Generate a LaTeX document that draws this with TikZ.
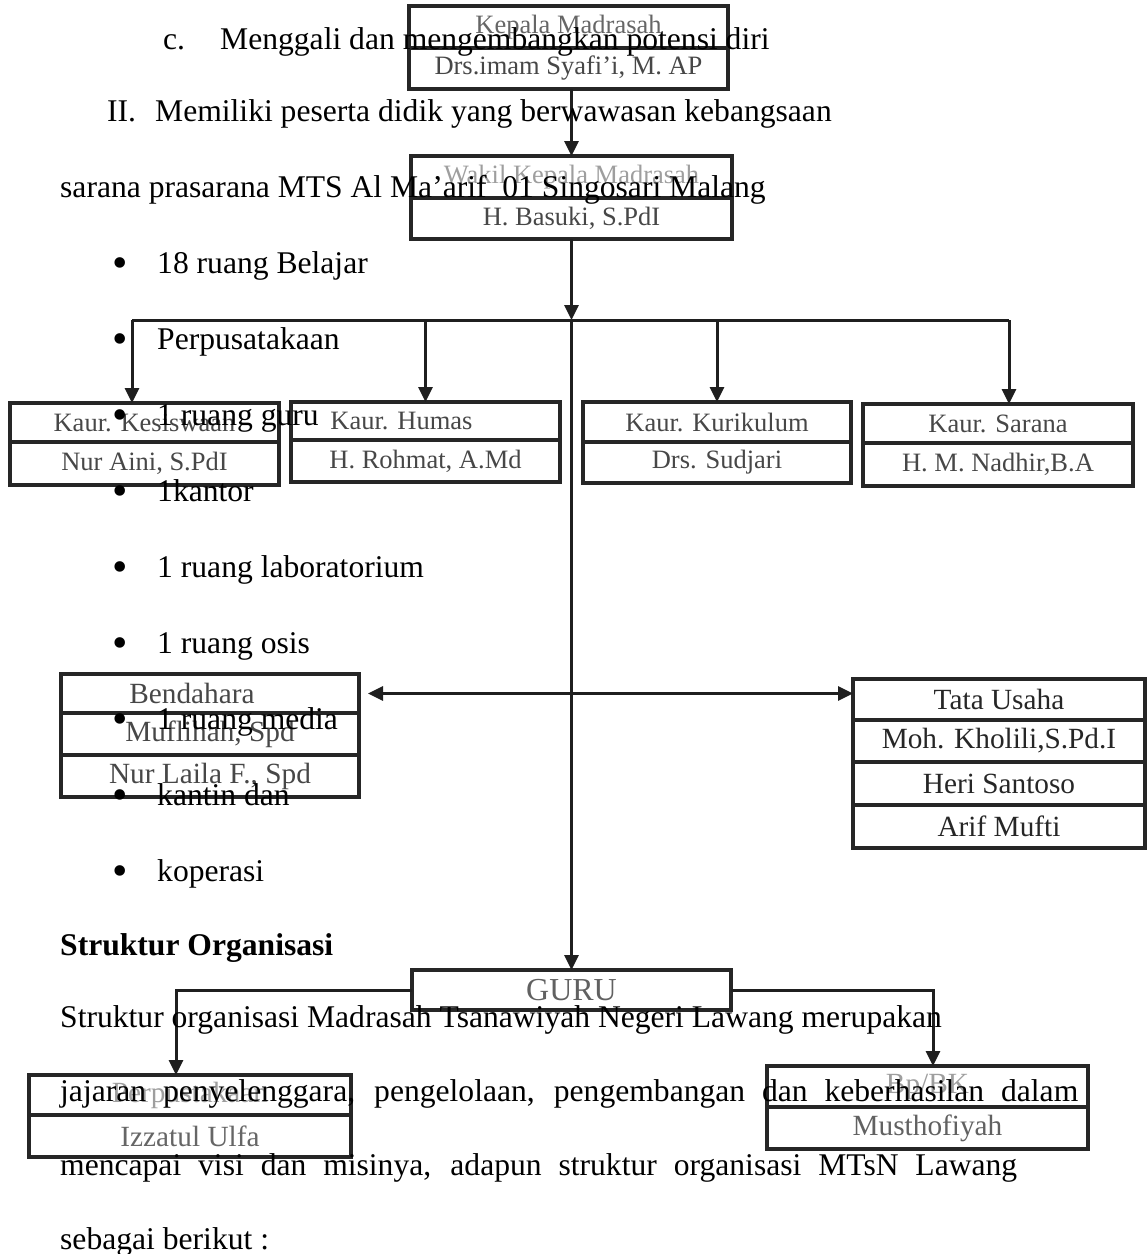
\documentclass[tikz,border=0pt]{standalone}
\usepackage{fontspec}
\setmainfont{Liberation Serif}
\usetikzlibrary{arrows.meta,positioning}

\tikzset{
  cell/.style={draw=black!85, line width=3.5pt, inner sep=0pt, outer sep=0pt,
    text=black!72, font=\fontsize{26.5}{30}\selectfont},
  wide/.style={font=\fontsize{29.3}{33}\selectfont},
  pale/.style={text=black!38},
  link/.style={draw=black!88, line width=3pt},
  arr/.style={link, -{Triangle[length=15pt,width=14pt]}},
  body/.style={inner sep=0pt, anchor=base west, font=\fontsize{31.6}{38}\selectfont},
  dotmark/.style={inner sep=0pt, anchor=base west, yshift=-4pt, font=\fontsize{44}{48}\selectfont},
}

\begin{document}
\begin{tikzpicture}[x=1pt, y=-1pt, line join=miter]
    \useasboundingbox (0,0) rectangle (1147,1254);

    % Kepala and Wakil
    \node[cell, anchor=north west, minimum width=319pt, minimum height=42pt, text=black!60] (kepT) at (409,6) {Kepala Madrasah};
    \node[cell, minimum width=319pt, minimum height=41pt, below=0pt of kepT] (kepB) {Drs.imam Syafi’i, M. AP};
    \node[cell, anchor=north west, minimum width=321pt, minimum height=42pt, pale] (wakT) at (411,156) {Wakil Kepala Madrasah};
    \node[cell, minimum width=321pt, minimum height=41pt, below=0pt of wakT] (wakB) {H. Basuki, S.PdI};

    % Kaur boxes
    \node[cell, anchor=north west, minimum width=269pt, minimum height=39pt] (kesT) at (10,403) {Kaur. Kesiswaan};
    \node[cell, minimum width=269pt, minimum height=43pt, below=0pt of kesT] (kesB) {Nur Aini, S.PdI};
    \node[cell, anchor=north west, minimum width=269pt, minimum height=38pt] (humT) at (291,402) {\hspace*{-48pt}Kaur. Humas};
    \node[cell, minimum width=269pt, minimum height=42pt, below=0pt of humT] (humB) {H. Rohmat, A.Md};
    \node[cell, anchor=north west, minimum width=268pt, minimum height=40pt] (kurT) at (583,402) {Kaur. Kurikulum};
    \node[cell, minimum width=268pt, minimum height=41pt, below=0pt of kurT] (kurB) {Drs. Sudjari};
    \node[cell, anchor=north west, minimum width=270pt, minimum height=39pt] (sarT) at (863,404) {Kaur. Sarana};
    \node[cell, minimum width=270pt, minimum height=43pt, below=0pt of sarT] (sarB) {H. M. Nadhir,B.A};

    % Bendahara and Tata Usaha
    \node[cell, wide, anchor=north west, minimum width=298pt, minimum height=39pt] (benA) at (61,674) {\hspace*{-36pt}Bendahara};
    \node[cell, wide, minimum width=298pt, minimum height=42pt, below=0pt of benA] (benB) {Muflihah, Spd};
    \node[cell, wide, minimum width=298pt, minimum height=42pt, below=0pt of benB] (benC) {Nur Laila F., Spd};
    \node[cell, wide, anchor=north west, minimum width=292pt, minimum height=41pt, text=black!85] (tuA) at (853,679) {Tata Usaha};
    \node[cell, wide, minimum width=292pt, minimum height=42pt, text=black!85, below=0pt of tuA] (tuB) {Moh. Kholili,S.Pd.I};
    \node[cell, wide, minimum width=292pt, minimum height=43pt, text=black!85, below=0pt of tuB] (tuC) {Heri Santoso};
    \node[cell, wide, minimum width=292pt, minimum height=43pt, text=black!85, below=0pt of tuC] (tuD) {Arif Mufti};

    % Guru and below
    \node[cell, anchor=north west, minimum width=319pt, minimum height=40pt, text=black!62, font=\fontsize{32}{36}\selectfont] (guru) at (412,970) {GURU};
    \node[cell, wide, anchor=north west, minimum width=322pt, minimum height=40pt, pale] (perT) at (29,1075) {Perpustakaan};
    \node[cell, wide, minimum width=322pt, minimum height=42pt, text=black!60, below=0pt of perT] (perB) {Izzatul Ulfa};
    \node[cell, wide, anchor=north west, minimum width=321pt, minimum height=41pt, pale] (bpT) at (767,1066) {Bp/BK};
    \node[cell, wide, minimum width=321pt, minimum height=42pt, text=black!62, below=0pt of bpT] (bpB) {Musthofiyah};

    % Connectors
    \coordinate (hub) at (571.5,320);
    \coordinate (jl) at (132,320);
    \coordinate (jr) at (1009,320);
    \coordinate (gl) at (176,990);
    \coordinate (gr) at (933,990);
    \draw[arr] (wakT.north |- kepB.south) -- (wakT.north);
    \draw[arr] (wakB.south) -- (hub);
    \draw[link] (jl) -- (jr);
    \draw[arr] (jl) -- (jl |- kesT.north);
    \draw[arr] (humT.north |- hub) -- (humT.north);
    \draw[arr] (kurT.north |- hub) -- (kurT.north);
    \draw[arr] (jr) -- (jr |- sarT.north);
    \draw[arr] (hub) -- (guru.north);
    \draw[link, {Triangle[length=15pt,width=14pt]}-{Triangle[length=15pt,width=14pt]}] ([xshift=9pt]benA.east) -- (benA.east -| tuA.west);
    \draw[arr] (guru.west) -| (gl |- perT.north);
    \draw[arr] (guru.east) -| (gr |- bpT.north);

    % Page text
    \node[body] (c1) at (163,49) {c.};
    \node[body] (c2) at (220,49) {Menggali dan mengembangkan potensi diri};
    \node[body] (d1) at (107,121) {II.};
    \node[body] (d2) at (155,121) {Memiliki peserta didik yang berwawasan kebangsaan};
    \node[body] (s1) at (60,197) {sarana prasarana MTS Al Ma’arif\ \ 01 Singosari Malang};

    % Bullet list
    \foreach \t [count=\i] in {18 ruang Belajar, Perpusatakaan, 1 ruang guru, 1kantor,
        1 ruang laboratorium, 1 ruang osis, 1 ruang media, kantin dan, koperasi}{
        \node[dotmark] (dot\i) at (112,{197+76*\i}) {•};
        \node[body] (item\i) at (157,{197+76*\i}) {\t};
    }

    \node[body, font=\fontsize{31.6}{38}\selectfont\bfseries] (head) at (60,955) {Struktur Organisasi};
    \node[body] (p1) at (60,1027) {Struktur organisasi Madrasah Tsanawiyah Negeri Lawang merupakan};
    \node[body] (p2) at (60,1101) {\makebox[1018pt][s]{jajaran penyelenggara, pengelolaan, pengembangan dan keberhasilan dalam}};
    \node[body] (p3) at (60,1175) {\makebox[957pt][s]{mencapai visi dan misinya, adapun struktur organisasi MTsN Lawang}};
    \node[body] (p4) at (60,1249) {sebagai berikut :};

\end{tikzpicture}
\end{document}
